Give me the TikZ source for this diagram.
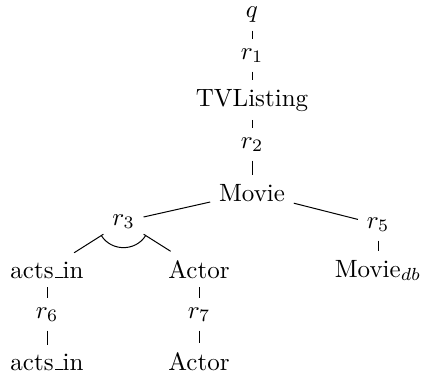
\documentclass[tikz,border=0pt]{standalone}
\usetikzlibrary{calc}
\newcommand{\usc}{\kern.06em\rule{.3em}{.4pt}}
\begin{document}
\begin{tikzpicture}[x=0.4pt,y=-0.4pt,
  lbl/.style={anchor=base},
  edge/.style={draw=black, line width=0.4pt}]
\useasboundingbox (0,0) rectangle (425,375);
% nodes (base anchored)
\node[lbl] (q)   at (252,17)  {$q$};
\node[lbl] (r1)  at (252,59)  {$r_1$};
\node[lbl] (tv)  at (252,106) {TVListing};
\node[lbl] (r2)  at (252,148) {$r_2$};
\node[lbl] (mv)  at (252,201) {Movie};
\node[lbl] (r3)  at (123.5,225) {$r_3$};
\node[lbl] (r5)  at (378,228) {$r_5$};
\node[lbl] (mdb) at (378,277) {Movie$_{db}$};
\node[lbl] (ai1) at (47,278)  {acts\usc in};
\node[lbl] (ac1) at (199,278) {Actor};
\node[lbl] (r6)  at (47,318)  {$r_6$};
\node[lbl] (r7)  at (199,318) {$r_7$};
\node[lbl] (ai2) at (47,370)  {acts\usc in};
\node[lbl] (ac2) at (199,370) {Actor};
% connectors
\draw[edge] (q) -- (r1);
\draw[edge] (r1) -- (tv);
\draw[edge] (tv) -- (r2);
\draw[edge] (r2) -- (mv);
\draw[edge] (mv) -- (r3);
\draw[edge] (mv) -- (r5);
\draw[edge] (r5) -- (mdb);
\draw[edge] (r3) -- (ai1);
\draw[edge] (r3) -- (ac1);
\draw[edge] (ai1) -- (r6);
\draw[edge] (r6) -- (ai2);
\draw[edge] (ac1) -- (r7);
\draw[edge] (r7) -- (ac2);
% AND arc
\coordinate (arcA) at ($(r3.center)!10.5pt!(ai1.center)$);
\coordinate (arcB) at ($(r3.center)!10.5pt!(ac1.center)$);
\draw[edge] (arcA) to[bend right=58, looseness=1.1] (arcB);
\end{tikzpicture}
\end{document}
